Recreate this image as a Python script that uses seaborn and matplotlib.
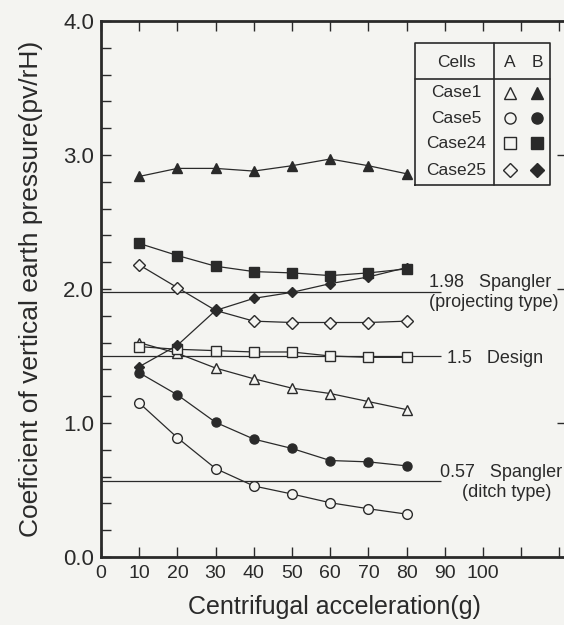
import numpy as np
import pandas as pd
import matplotlib
matplotlib.use("Agg")
import matplotlib.pyplot as plt
import seaborn as sns

# Data
accel = [10, 20, 30, 40, 50, 60, 70, 80]

case1_a = [1.60, 1.52, 1.41, 1.33, 1.26, 1.22, 1.16, 1.10]
case1_b = [2.84, 2.90, 2.90, 2.88, 2.92, 2.97, 2.92, 2.86]
case5_a = [1.15, 0.89, 0.66, 0.53, 0.47, 0.405, 0.36, 0.32]
case5_b = [1.375, 1.21, 1.005, 0.88, 0.81, 0.72, 0.71, 0.68]
case24_a = [1.57, 1.55, 1.54, 1.53, 1.53, 1.50, 1.49, 1.49]
case24_b = [2.34, 2.25, 2.17, 2.13, 2.12, 2.10, 2.12, 2.15]
case25_a = [2.18, 2.01, 1.84, 1.76, 1.75, 1.75, 1.75, 1.76]
case25_b = [1.42, 1.58, 1.84, 1.93, 1.975, 2.04, 2.09, 2.16]

case_names = ["Case1", "Case5", "Case24", "Case25"]
case_markers = ["^", "o", "s", "D"]

ref_values = [1.98, 1.5, 0.57]
ref_labels = ["1.98   Spangler", "1.5   Design", "0.57   Spangler"]
ref_notes = ["(projecting type)", "", "(ditch type)"]

x_ticks = list(range(0, 130, 10))
x_tick_labels = [str(v) for v in range(0, 110, 10)] + ["", ""]
y_ticks = [0.0, 1.0, 2.0, 3.0, 4.0]
y_tick_labels = ["0.0", "1.0", "2.0", "3.0", "4.0"]

# Styling
sns.set_theme(style="ticks")
plt.rcParams["font.family"] = ["Liberation Sans", "DejaVu Sans"]
bg = "#f4f4f1"
ink = "#2a2a2a"

fig = plt.figure(figsize=(5.64, 6.25), dpi=100, facecolor=bg)
ax = fig.add_axes([101 / 564, 68 / 625, 466 / 564, 536 / 625], facecolor=bg)

series = [
    (case1_a, "^", False), (case1_b, "^", True),
    (case5_a, "o", False), (case5_b, "o", True),
    (case24_a, "s", False), (case24_b, "s", True),
    (case25_a, "D", False), (case25_b, "D", True),
]

# Reference lines
for val in ref_values:
    ax.hlines(val, 0, 89, color=ink, lw=0.9, zorder=1)

for vals, mk, filled in series:
    df = pd.DataFrame({"g": accel, "p": vals})
    size = {"^": 7, "o": 7, "s": 7, "D": 6}[mk]
    sns.lineplot(data=df, x="g", y="p", ax=ax, color=ink, lw=0.9,
                 marker=mk, markersize=size if not filled else size - 0.5,
                 markerfacecolor=ink if filled else bg,
                 markeredgecolor=ink, markeredgewidth=1.0, zorder=3)

# Reference line annotations
note_fs = 13
ax.text(86, 2.045, ref_labels[0], fontsize=note_fs, color=ink, ha="left", va="center")
ax.text(86, 1.90, ref_notes[0], fontsize=note_fs, color=ink, ha="left", va="center")
ax.text(90.6, 1.485, ref_labels[1], fontsize=note_fs, color=ink, ha="left", va="center")
ax.text(88.7, 0.627, ref_labels[2], fontsize=note_fs, color=ink, ha="left", va="center")
ax.text(106.3, 0.478, ref_notes[2], fontsize=note_fs, color=ink, ha="center", va="center")

# Axes
ax.set_xlim(0, 122)
ax.set_ylim(0, 4.0)
ax.set_xticks(x_ticks)
ax.set_xticklabels(x_tick_labels)
ax.set_yticks(y_ticks)
ax.set_yticklabels(y_tick_labels)
ax.set_yticks(np.arange(0, 4.01, 0.2), minor=True)
ax.tick_params(axis="both", which="both", direction="in", length=7, width=1.0,
               color=ink, top=True, right=True)
ax.tick_params(axis="y", which="minor", right=False)
ax.tick_params(axis="y", labelsize=16, pad=5, labelcolor=ink)
ax.tick_params(axis="x", labelsize=14, pad=6, labelcolor=ink)
for side in ax.spines.values():
    side.set_color(ink)
    side.set_linewidth(2.0)

ax.set_xlabel("Centrifugal acceleration(g)", fontsize=18, color=ink)
ax.set_ylabel("Coeficient of vertical earth pressure(pv/rH)", fontsize=19, color=ink)
ax.xaxis.set_label_coords(0.5, -0.07)
ax.yaxis.set_label_coords(-0.125, 0.5)

# Table-style legend
x0, x1, xd = 0.674, 0.9635, 0.843
y0, y1, yd = 0.694, 0.959, 0.892
box = dict(transform=ax.transAxes, color=ink, lw=1.2, zorder=5)
ax.add_patch(plt.Rectangle((x0, y0), x1 - x0, y1 - y0, transform=ax.transAxes,
                           facecolor=bg, edgecolor="none", zorder=4))
ax.plot([x0, x1, x1, x0, x0], [y0, y0, y1, y1, y0], **box)
ax.plot([x0, x1], [yd, yd], **box)
ax.plot([xd, xd], [y0, y1], **box)
leg_fs = 12.5
ax.text(0.762, 0.922, "Cells", transform=ax.transAxes, fontsize=leg_fs,
        ha="center", va="center", color=ink, zorder=6)
ax.text(0.878, 0.922, "A", transform=ax.transAxes, fontsize=leg_fs,
        ha="center", va="center", color=ink, zorder=6)
ax.text(0.936, 0.922, "B", transform=ax.transAxes, fontsize=leg_fs,
        ha="center", va="center", color=ink, zorder=6)
row_y = [0.866, 0.819, 0.772, 0.722]
for name, mk, ry in zip(case_names, case_markers, row_y):
    ax.text(0.762, ry, name, transform=ax.transAxes, fontsize=leg_fs,
            ha="center", va="center", color=ink, zorder=6)
    ms = 8 if mk != "D" else 7
    ax.plot([0.878], [ry], transform=ax.transAxes, marker=mk, ms=ms,
            mfc=bg, mec=ink, mew=1.0, ls="none", zorder=6, clip_on=False)
    ax.plot([0.936], [ry], transform=ax.transAxes, marker=mk, ms=ms,
            mfc=ink, mec=ink, mew=1.0, ls="none", zorder=6, clip_on=False)

fig.savefig("out.png", dpi=100, facecolor=bg)
